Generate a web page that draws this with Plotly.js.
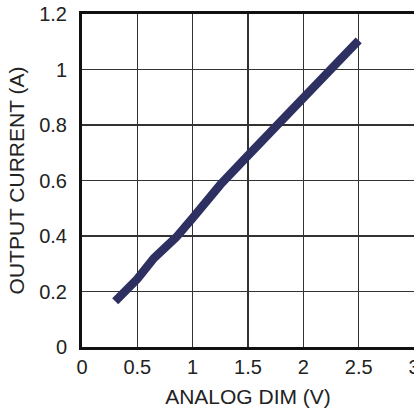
<!DOCTYPE html>
<html>
<head>
<meta charset="utf-8">
<script src="https://cdn.plot.ly/plotly-3.0.1.min.js"></script>
<style>
html, body { margin: 0; padding: 0; background: #fff; }
#chart { width: 414px; height: 408px; }
</style>
</head>
<body>
<div id="chart"></div>
<script>
const analogDim = [0.3, 0.5, 0.65, 0.85, 1.0, 1.25, 1.5, 1.75, 2.0, 2.25, 2.5];
const outputCurrent = [0.165, 0.245, 0.32, 0.395, 0.465, 0.585, 0.69, 0.795, 0.9, 1.0, 1.105];
const xTicks = [0, 0.5, 1, 1.5, 2, 2.5, 3];
const xTickLabels = ['0', '0.5', '1', '1.5', '2', '2.5', '3'];
const yTicks = [0, 0.2, 0.4, 0.6, 0.8, 1, 1.2];
const yTickLabels = ['0', '0.2', '0.4', '0.6', '0.8', '1', '1.2'];

const trace = {
  x: analogDim,
  y: outputCurrent,
  type: 'scatter',
  mode: 'lines',
  line: { color: '#2f3062', width: 8.5 },
  hoverinfo: 'skip'
};

const font = { family: 'Liberation Sans, Arial, sans-serif', color: '#222' };

const layout = {
  width: 414,
  height: 408,
  margin: { l: 82, r: 0, t: 14, b: 61 },
  paper_bgcolor: '#fff',
  plot_bgcolor: '#fff',
  showlegend: false,
  font: font,
  xaxis: {
    range: [0, 3],
    tickvals: xTicks,
    ticktext: xTickLabels,
    tickfont: { family: font.family, color: '#222', size: 20 },
    ticks: '',
    ticklabelstandoff: 0,
    ticklabeloverflow: 'allow',
    showgrid: true,
    gridcolor: '#333',
    gridwidth: 1.6,
    zeroline: false,
    showline: true,
    linecolor: '#111',
    linewidth: 3,
    mirror: true,
    fixedrange: true,
    title: { text: 'ANALOG DIM (V)', font: { family: font.family, color: '#222', size: 21 }, standoff: 14 }
  },
  yaxis: {
    range: [0, 1.2],
    tickvals: yTicks,
    ticktext: yTickLabels,
    tickfont: { family: font.family, color: '#222', size: 20 },
    ticks: '',
    ticklabelstandoff: 8,
    showgrid: true,
    gridcolor: '#333',
    gridwidth: 1.6,
    zeroline: false,
    showline: true,
    linecolor: '#111',
    linewidth: 3,
    mirror: true,
    fixedrange: true,
    title: { text: 'OUTPUT CURRENT (A)', font: { family: font.family, color: '#222', size: 21 }, standoff: 9 }
  }
};

Plotly.newPlot('chart', [trace], layout, { displayModeBar: false, staticPlot: true });
</script>
</body>
</html>
